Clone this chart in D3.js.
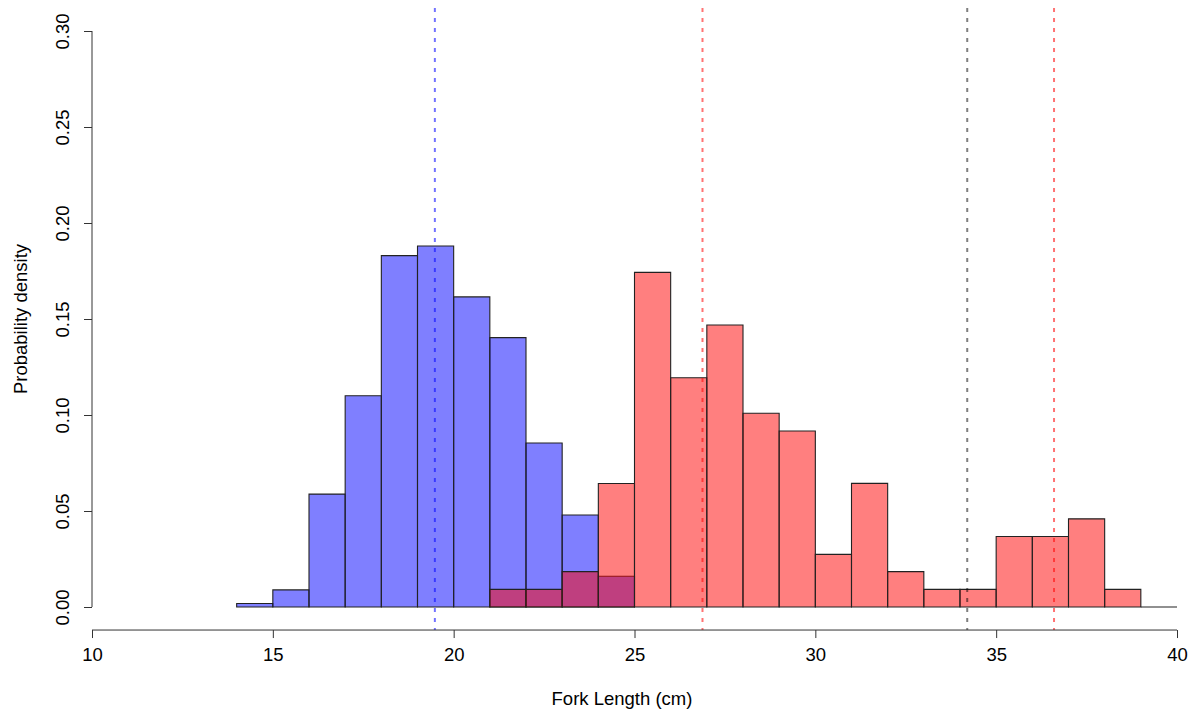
<!DOCTYPE html>
<html>
<head>
<meta charset="utf-8">
<script src="https://cdn.jsdelivr.net/npm/d3@7"></script>
<style>
  body { margin: 0; background: #fff; }
  svg { display: block; }
  text { font-family: "Liberation Sans", Arial, Helvetica, sans-serif; fill: #000; }
</style>
</head>
<body>
<svg id="chart" width="1197" height="712"></svg>
<script>
// ---- data ----
const blueBinStarts = [14, 15, 16, 17, 18, 19, 20, 21, 22, 23, 24];
const blueDensity   = [0.0018, 0.0089, 0.0588, 0.110, 0.183, 0.188, 0.1615, 0.1403, 0.0854, 0.0479, 0.016];
const redBinStarts  = [21, 22, 23, 24, 25, 26, 27, 28, 29, 30, 31, 32, 33, 34, 35, 36, 37, 38, 39];
const redDensity    = [0.0092, 0.0092, 0.0184, 0.0643, 0.1743, 0.1194, 0.1469, 0.1009, 0.0917, 0.0274, 0.0644, 0.0184, 0.0092, 0.0092, 0.0367, 0.0367, 0.0459, 0.0092, 0];
const binWidth = 1;
const xTicks = [10, 15, 20, 25, 30, 35, 40];
const yTicks = [0.00, 0.05, 0.10, 0.15, 0.20, 0.25, 0.30];
const vLines = [
  { x: 19.48, color: "rgba(0,0,255,0.55)" },
  { x: 26.88, color: "rgba(255,0,0,0.55)" },
  { x: 34.20, color: "rgba(0,0,0,0.5)" },
  { x: 36.60, color: "rgba(255,0,0,0.55)" }
];
const xTitle = "Fork Length (cm)";
const yTitle = "Probability density";

// ---- layout ----
const svg = d3.select("#chart");
const x = d3.scaleLinear().domain([10, 40]).range([92, 1177]);
const y = d3.scaleLinear().domain([0, 0.30]).range([607, 31]);
const plotTop = y(0.312), plotBottom = y(-0.012);
const fontSize = 18.5;

// bars (zero-height bins drawn as a line, like R's rect)
function drawHist(starts, vals, fill) {
  const data = starts.map((s, i) => ({ s, v: vals[i] }));
  svg.append("g").selectAll("path")
    .data(data)
    .join("path")
    .attr("d", d => {
      const x0 = x(d.s), x1 = x(d.s + binWidth), y0 = y(0), y1 = y(d.v);
      return d.v > 0 ? `M${x0},${y0}V${y1}H${x1}V${y0}Z` : `M${x0},${y0}H${x1}`;
    })
    .attr("fill", d => d.v > 0 ? fill : "none")
    .attr("stroke", "#222")
    .attr("stroke-width", 1.1);
}
drawHist(blueBinStarts, blueDensity, "rgba(0,0,255,0.5)");
drawHist(redBinStarts, redDensity, "rgba(255,0,0,0.5)");

// vertical dashed lines
svg.append("g").selectAll("line")
  .data(vLines)
  .join("line")
  .attr("x1", d => x(d.x)).attr("x2", d => x(d.x))
  .attr("y1", plotTop).attr("y2", plotBottom)
  .attr("stroke", d => d.color)
  .attr("stroke-width", 2)
  .attr("stroke-dasharray", "4,6");

// x axis
const xAxis = d3.axisBottom(x).tickValues(xTicks).tickFormat(d3.format("d"))
  .tickSizeOuter(0).tickSizeInner(8).tickPadding(10);
const gx = svg.append("g").attr("transform", `translate(0,${plotBottom})`).call(xAxis);
gx.select(".domain").attr("stroke", "#333").attr("d", `M${x(10)},0H${x(40)}`);
gx.selectAll(".tick line").attr("stroke", "#333");
gx.selectAll(".tick text").attr("font-size", fontSize).attr("font-family", "Liberation Sans, Arial, sans-serif").attr("fill", "#000");

// y axis
const yAxis = d3.axisLeft(y).tickValues(yTicks).tickFormat(d3.format(".2f"))
  .tickSizeOuter(0).tickSizeInner(8);
const gy = svg.append("g").attr("transform", `translate(92,0)`).call(yAxis);
gy.select(".domain").attr("stroke", "#333").attr("d", `M0,${y(0)}V${y(0.30)}`);
gy.selectAll(".tick line").attr("stroke", "#333");
gy.selectAll(".tick text")
  .attr("font-size", fontSize).attr("font-family", "Liberation Sans, Arial, sans-serif").attr("fill", "#000")
  .attr("x", 0).attr("dy", null)
  .attr("transform", "translate(-30,0) rotate(-90)")
  .attr("text-anchor", "middle")
  .attr("dominant-baseline", "central");

// titles
svg.append("text")
  .attr("x", 622).attr("y", 705)
  .attr("text-anchor", "middle")
  .attr("font-size", fontSize)
  .text(xTitle);
svg.append("text")
  .attr("transform", `translate(20,${y(0.15)}) rotate(-90)`)
  .attr("text-anchor", "middle")
  .attr("dominant-baseline", "central")
  .attr("font-size", fontSize)
  .text(yTitle);
</script>
</body>
</html>
